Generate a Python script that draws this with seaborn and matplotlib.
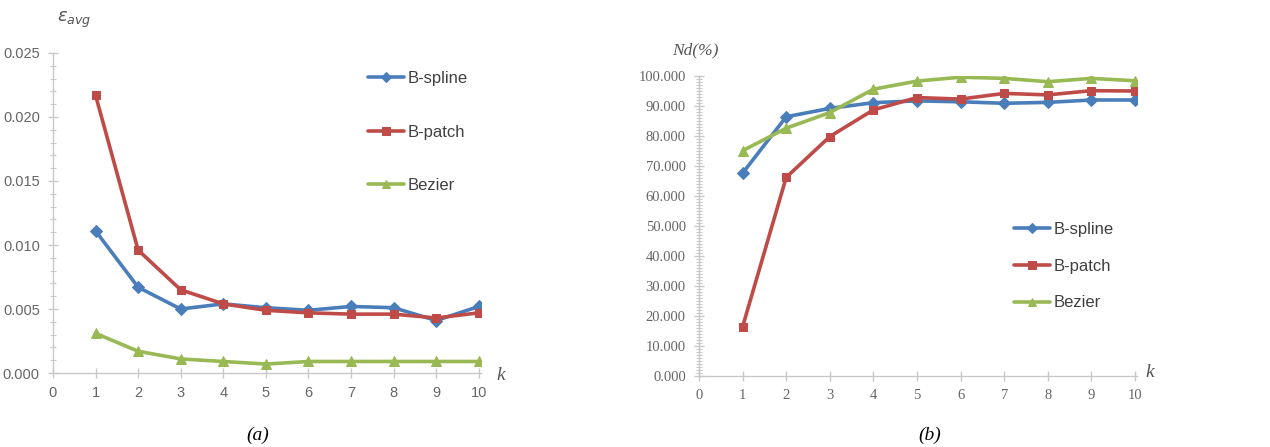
import numpy as np
import pandas as pd
import matplotlib
matplotlib.use("Agg")
import matplotlib.pyplot as plt
import seaborn as sns
from matplotlib.ticker import MultipleLocator, FormatStrFormatter

k = [1, 2, 3, 4, 5, 6, 7, 8, 9, 10]
series_names = ["B-spline", "B-patch", "Bezier"]

err_bspline = [0.0111, 0.0067, 0.0050, 0.0054, 0.0051, 0.0049, 0.0052, 0.0051, 0.0041, 0.0052]
err_bpatch = [0.0217, 0.0096, 0.0065, 0.0054, 0.0049, 0.0047, 0.0046, 0.0046, 0.0043, 0.0047]
err_bezier = [0.0031, 0.0017, 0.0011, 0.0009, 0.0007, 0.0009, 0.0009, 0.0009, 0.0009, 0.0009]

nd_bspline = [67.6, 86.4, 89.2, 91.1, 91.7, 91.4, 90.9, 91.2, 92.0, 92.0]
nd_bpatch = [16.4, 66.2, 79.8, 88.7, 92.8, 92.3, 94.2, 93.7, 95.1, 95.0]
nd_bezier = [75.1, 82.6, 87.8, 95.6, 98.3, 99.6, 99.2, 98.1, 99.2, 98.4]

x_ticks = [0, 1, 2, 3, 4, 5, 6, 7, 8, 9, 10]

colors = {"B-spline": "#4a7ebb", "B-patch": "#be4b48", "Bezier": "#98b954"}
markers = {"B-spline": "D", "B-patch": "s", "Bezier": "^"}
msize = {"B-spline": 6, "B-patch": 6, "Bezier": 7}

sns.set_theme(style="white")
plt.rcParams["font.family"] = ["Liberation Sans", "DejaVu Sans"]

fig = plt.figure(figsize=(12.7, 4.47), dpi=100)
axA = fig.add_axes([0.0417, 0.1655, 0.3370, 0.716])
axB = fig.add_axes([0.5504, 0.159, 0.3450, 0.671])

def draw(ax, values, ylim, major, minor, fmt, tickfont):
    for name, vals in zip(series_names, values):
        df = pd.DataFrame({"k": k, "v": vals})
        sns.lineplot(data=df, x="k", y="v", ax=ax, color=colors[name], marker=markers[name],
                     markersize=msize[name], markeredgecolor=colors[name], linewidth=2.6,
                     label=name)
    ax.set_xlim(0, 10.05)
    ax.set_ylim(*ylim)
    ax.set_xlabel("")
    ax.set_ylabel("")
    for s in ["top", "right"]:
        ax.spines[s].set_visible(False)
    for s in ["left", "bottom"]:
        ax.spines[s].set_color("#c8c8c8")
        ax.spines[s].set_linewidth(1.0)
    ax.set_xticks(x_ticks)
    ax.yaxis.set_major_locator(MultipleLocator(major))
    ax.yaxis.set_minor_locator(MultipleLocator(minor))
    ax.yaxis.set_major_formatter(FormatStrFormatter(fmt))
    ax.tick_params(axis="both", which="major", direction="inout", length=7, width=1,
                   color="#c8c8c8", labelcolor="#666666", labelsize=10.5, pad=6,
                   left=True, bottom=True)
    ax.tick_params(axis="y", which="minor", direction="inout", length=4, width=0.8,
                   color="#c8c8c8", left=True)
    for lbl in ax.get_xticklabels() + ax.get_yticklabels():
        lbl.set_family(tickfont)
    ax.grid(False)

draw(axA, [err_bspline, err_bpatch, err_bezier], (0, 0.025), 0.005, 0.001, "%.3f",
     ["Liberation Sans"])
draw(axB, [nd_bspline, nd_bpatch, nd_bezier], (0, 100), 10, 1, "%.3f",
     ["Liberation Serif"])

legA = axA.legend(loc="upper left", bbox_to_anchor=(0.70, 0.99), frameon=False,
                  fontsize=12, labelspacing=2.3, handlelength=2.2, handletextpad=0.2,
                  markerscale=0.9)
legB = axB.legend(loc="upper left", bbox_to_anchor=(0.684, 0.563), frameon=False,
                  fontsize=12, labelspacing=1.3, handlelength=2.2, handletextpad=0.2,
                  markerscale=0.9)
for leg in (legA, legB):
    for t in leg.get_texts():
        t.set_color("#404040")

fig.text(0.045, 0.955, r"$\varepsilon_{avg}$", fontsize=13, color="#555555", ha="left", va="center")
fig.text(0.394, 0.16, "k", fontsize=14, style="italic", color="#555555",
         family="Liberation Serif", ha="center", va="center")
fig.text(0.905, 0.166, "k", fontsize=14, style="italic", color="#555555",
         family="Liberation Serif", ha="center", va="center")
fig.text(0.529, 0.888, "Nd(%)", fontsize=12.5, style="italic", color="#555555",
         family="Liberation Serif", ha="left", va="center")
fig.text(0.203, 0.027, "(a)", fontsize=14, style="italic", color="black",
         family="Liberation Serif", ha="center", va="center")
fig.text(0.732, 0.027, "(b)", fontsize=14, style="italic", color="black",
         family="Liberation Serif", ha="center", va="center")

fig.savefig("out.png", dpi=100)
